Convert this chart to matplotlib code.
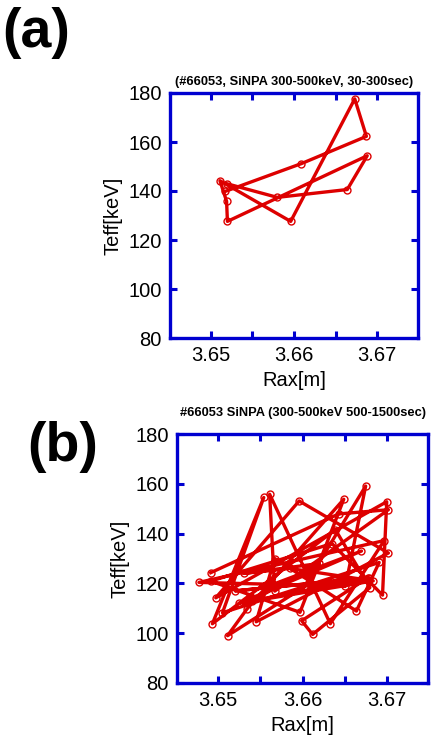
import matplotlib
matplotlib.use("Agg")
import matplotlib.pyplot as plt

plt.rcParams["font.family"] = ["Liberation Sans", "DejaVu Sans"]

RED = "#dd0000"
BLUE = "#0000d0"

# panel (a): 30-300 sec
rax_a = [3.6517, 3.6609, 3.6687, 3.6673, 3.6596, 3.6511, 3.6519, 3.6520,
         3.6688, 3.6664, 3.6580, 3.6519]
teff_a = [139.8, 151.2, 162.3, 177.6, 127.6, 144.2, 135.8, 127.6,
          154.4, 140.6, 137.4, 143.0]

# panel (b): 500-1500 sec
rax_b = [3.6491, 3.6643, 3.6702, 3.6567, 3.6561, 3.6633, 3.6697, 3.6477,
         3.6651, 3.6675, 3.6602, 3.6511, 3.6534, 3.6649, 3.6597, 3.6491,
         3.6635, 3.6695, 3.6700, 3.6497, 3.6596, 3.6702, 3.6545, 3.6567,
         3.6664, 3.6691, 3.6505, 3.6554, 3.6493, 3.6639, 3.6680, 3.6612,
         3.6599, 3.6678, 3.6520, 3.6679, 3.6540, 3.6620, 3.6530, 3.6585,
         3.6684, 3.6525, 3.6670, 3.6560]
teff_b = [124.3, 147.9, 149.6, 116.9, 155.8, 103.8, 137.2, 120.4,
          118.9, 159.1, 118.6, 99.0, 109.7, 153.8, 108.4, 120.9,
          136.0, 115.3, 152.8, 114.2, 153.1, 132.2, 104.6, 130.0,
          108.9, 128.4, 108.2, 154.5, 103.8, 141.6, 118.3, 99.5,
          105.0, 122.3, 117.0, 122.2, 113.0, 128.0, 124.0, 126.0,
          121.0, 112.0, 133.0, 119.0]

x_ticks = [3.65, 3.655, 3.66, 3.665, 3.67]
x_ticklabels = ["3.65", "", "3.66", "", "3.67"]
y_ticks = [80, 100, 120, 140, 160, 180]


def style_axes(ax, title, title_pad):
    ax.set_xlim(3.6451, 3.6749)
    ax.set_ylim(80, 180)
    ax.set_xticks(x_ticks)
    ax.set_xticklabels(x_ticklabels)
    ax.set_yticks(y_ticks)
    for sp in ax.spines.values():
        sp.set_color(BLUE)
        sp.set_linewidth(2.4)
    ax.tick_params(direction="in", length=5, width=2.2, color=BLUE,
                   top=True, right=True, labelsize=14.5, pad=6)
    ax.set_xlabel("Rax[m]", fontsize=14.5, labelpad=4)
    ax.set_ylabel("Teff[keV]", fontsize=14.5, labelpad=4)
    ax.set_title(title, fontsize=9.3, fontweight="bold", pad=title_pad)


def draw(ax, x, y):
    ax.plot(x, y, color=RED, lw=2.4, marker="o", ms=5,
            mfc="none", mec=RED, mew=1.0)


fig = plt.figure(figsize=(4.36, 7.45), dpi=100)
ax_a = fig.add_axes([170 / 436, 1 - 338 / 745, 248 / 436, 245 / 745])
ax_b = fig.add_axes([177 / 436, 1 - 683 / 745, 251 / 436, 249 / 745])

draw(ax_a, rax_a, teff_a)
draw(ax_b, rax_b, teff_b)
style_axes(ax_a, "(#66053, SiNPA 300-500keV, 30-300sec)", 6)
style_axes(ax_b, "#66053 SiNPA (300-500keV 500-1500sec)", 13)

fig.text(2 / 436, 1 - 33 / 745, "(a)", fontsize=40, fontweight="bold", va="center", ha="left")
fig.text(27 / 436, 1 - 447 / 745, "(b)", fontsize=40, fontweight="bold", va="center", ha="left")

fig.savefig("out.png", dpi=100)
